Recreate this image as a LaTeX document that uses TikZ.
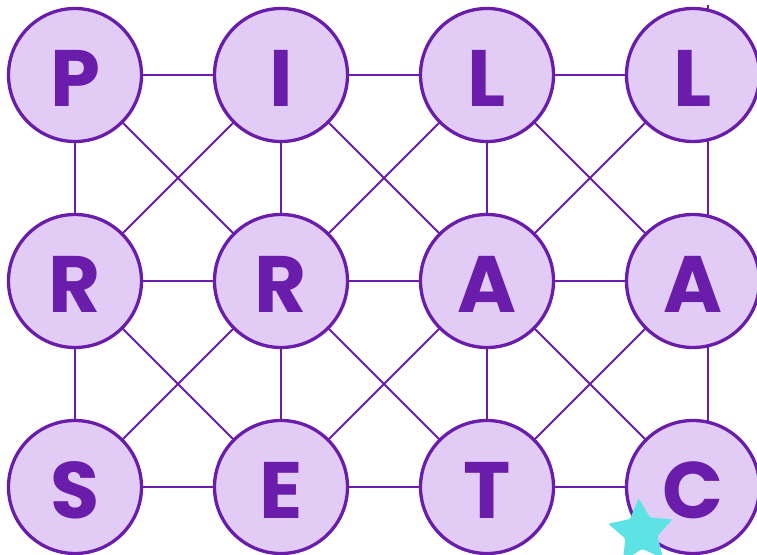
\documentclass[tikz,border=0pt]{standalone}
\usepackage{fontspec}
\newfontfamily\letterfont{Poppins}[BoldFont={* Bold}]
\definecolor{ink}{HTML}{6A1CAB}
\definecolor{disc}{HTML}{E2CCF6}
\definecolor{starcol}{HTML}{5DE2E6}
\tikzset{
  link/.style={draw=ink, line width=1.8pt},
  letterdisc/.style={circle, draw=ink, fill=disc, line width=3.3pt,
    minimum size=133pt, inner sep=0pt, text=ink,
    font=\letterfont\bfseries\fontsize{80}{80}\selectfont,
    text height=62pt, text depth=0pt},
}
\begin{document}
\begin{tikzpicture}[x=1pt,y=-1pt]
\useasboundingbox (0,0) rectangle (757,554);
\clip (0,0) rectangle (757,554);
% centres
\foreach \r/\y in {1/75,2/281,3/487}{
  \foreach \c/\x in {1/75,2/281,3/487,4/693}{
    \coordinate (p\r\c) at (\x,\y);
  }
}
\coordinate (v4top) at (708,5);
\coordinate (v4bot) at (708,487);
% horizontal links
\foreach \r in {1,2,3}{
  \draw[link] (p\r1) -- (p\r2) -- (p\r3) -- (p\r4);
}
% vertical links
\foreach \c in {1,2,3}{
  \draw[link] (p1\c) -- (p2\c) -- (p3\c);
}
\draw[link] (v4top) -- (v4bot);
% diagonal links
\foreach \r/\rn in {1/2,2/3}{
  \foreach \c/\cn in {1/2,2/3,3/4}{
    \draw[link] (p\r\c) -- (p\rn\cn);
    \draw[link] (p\r\cn) -- (p\rn\c);
  }
}
% letter discs
\node[letterdisc] (n11) at (p11) {P};
\node[letterdisc] (n12) at (p12) {I};
\node[letterdisc] (n13) at (p13) {L};
\node[letterdisc] (n14) at (p14) {L};
\node[letterdisc] (n21) at (p21) {R};
\node[letterdisc] (n22) at (p22) {R};
\node[letterdisc] (n23) at (p23) {A};
\node[letterdisc] (n24) at (p24) {A};
\node[letterdisc] (n31) at (p31) {S};
\node[letterdisc] (n32) at (p32) {E};
\node[letterdisc] (n33) at (p33) {T};
\node[letterdisc] (n34) at (p34) {C};
% star
\fill[starcol, shift={(641,532)}, rounded corners=1.5pt]
  (-94:34) -- (-130:17) -- (-166:34) -- (-202:17) -- (-238:34) --
  (-274:17) -- (-310:34) -- (-346:17) -- (-382:34) -- (-418:17) -- cycle;
\end{tikzpicture}
\end{document}
